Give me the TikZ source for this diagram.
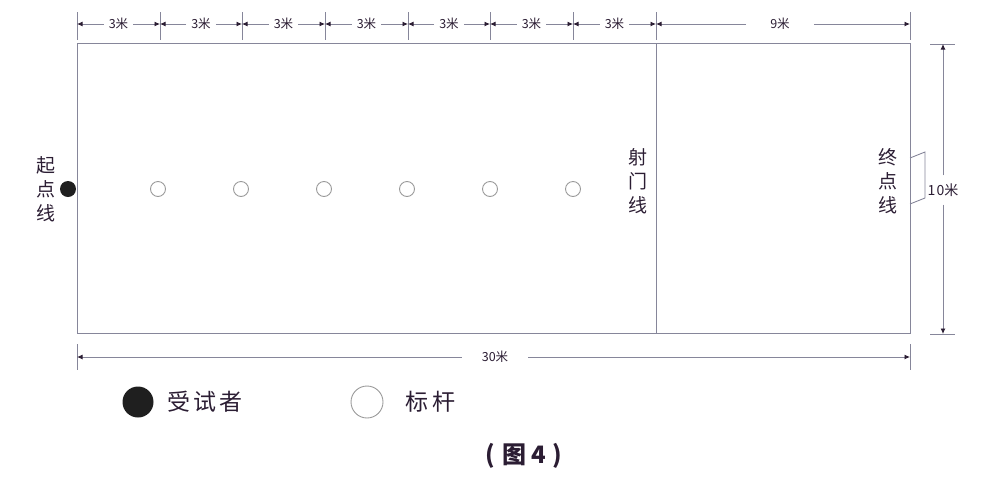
\documentclass[tikz,border=0pt]{standalone}
\usepackage{fontspec}
\setmainfont{Liberation Sans}
\newfontfamily\cjk{Noto Sans CJK SC}
\usetikzlibrary{arrows.meta,calc}
\definecolor{ln}{HTML}{86869A}
\definecolor{tx}{HTML}{2B1D33}
\definecolor{pole}{HTML}{9A9A9A}
\tikzset{
  dimlbl/.style={text=tx,font=\cjk\fontsize{12.5}{12}\selectfont,inner sep=5pt},
  dimarr/.style={draw=ln,line width=0.9pt,-{Latex[length=5.5pt,width=5pt,color=tx]}},
  ext/.style={draw=ln,line width=0.9pt},
  field/.style={draw=ln,line width=1pt},
  polec/.style={circle,draw=pole,line width=0.9pt,minimum size=15pt,inner sep=0pt},
  subj/.style={circle,fill=black!88,minimum size=16pt,inner sep=0pt},
  vlbl/.style={text=tx,font=\cjk\fontsize{19}{24}\selectfont,align=center,inner sep=0pt},
  leg/.style={text=tx,font=\cjk\fontsize{23}{24}\selectfont,inner sep=0pt}
}
\begin{document}
\begin{tikzpicture}[x=1pt,y=-1pt]
\useasboundingbox (0,0) rectangle (1006,488);
% field
\node[field,rectangle,minimum width=833pt,minimum height=290pt,anchor=north west,inner sep=0pt] (fld) at (77,43) {};
\coordinate (gt) at (656,43);
\coordinate (gb) at (656,333);
\draw[field] (gt) -- (gb);
% top ticks
\foreach \n/\x in {0/77,1/160,2/242,3/325,4/408,5/490,6/573,7/656,8/910}{
  \coordinate (tt\n) at (\x,12);
  \coordinate (tb\n) at (\x,40);
  \coordinate (ta\n) at (\x,24);
  \draw[ext] (tt\n) -- (tb\n);
}
\foreach \a/\b in {0/1,1/2,2/3,3/4,4/5,5/6,6/7}{
  \node[dimlbl] (dl\a) at ($(ta\a)!0.5!(ta\b)$) {3米};
  \draw[dimarr] (dl\a) -- (ta\a);
  \draw[dimarr] (dl\a) -- (ta\b);
}
\node[dimlbl,inner xsep=24pt] (dl7) at (780,24) {9米};
\draw[dimarr] (dl7) -- (ta7);
\draw[dimarr] (dl7) -- (ta8);
% right dimension
\coordinate (rl1) at (930,44); \coordinate (rr1) at (955,44);
\coordinate (rl2) at (930,334); \coordinate (rr2) at (955,334);
\draw[ext] (rl1) -- (rr1);
\draw[ext] (rl2) -- (rr2);
\node[dimlbl,font=\cjk\fontsize{14}{14}\selectfont,inner ysep=8pt,inner xsep=0pt] (d10) at (943,190) {1\kern1pt 0米};
\coordinate (r1) at (943,44);
\coordinate (r2) at (943,334);
\draw[dimarr] (d10) -- (r1);
\draw[dimarr] (d10) -- (r2);
% bracket
\coordinate (b1) at (910,158); \coordinate (b2) at (925,152);
\coordinate (b3) at (925,198); \coordinate (b4) at (910,204);
\draw[ext] (b1) -- (b2) -- (b3) -- (b4);
% bottom dimension
\coordinate (bt0) at (77,344); \coordinate (bb0) at (77,370);
\coordinate (bt1) at (910,344); \coordinate (bb1) at (910,370);
\coordinate (ba0) at (77,357); \coordinate (ba1) at (910,357);
\draw[ext] (bt0) -- (bb0);
\draw[ext] (bt1) -- (bb1);
\node[dimlbl,inner xsep=20pt] (d30) at (495,357) {30米};
\draw[dimarr] (d30) -- (ba0);
\draw[dimarr] (d30) -- (ba1);
% poles
\foreach \i/\x in {1/158,2/241,3/324,4/407,5/490,6/573}{
  \node[polec] (p\i) at (\x,189) {};
}
\node[subj] (s) at (68,189) {};
% vertical labels
\node[vlbl] (start) at (46,189) {起\\点\\线};
\node[vlbl] (shoot) at (638,181) {射\\门\\线};
\node[vlbl] (fin) at (888,181) {终\\点\\线};
% legend
\node[subj,minimum size=31pt] (ls) at (138,402) {};
\node[leg,anchor=west] (lst) at (167,402) {受\kern3pt 试\kern3pt 者};
\node[polec,minimum size=32pt] (lp) at (367,402) {};
\node[leg,anchor=west] (lpt) at (405,402) {标\kern4pt 杆};
% caption
\node[text=tx,font=\cjk\bfseries\fontsize{24}{26}\selectfont,inner sep=0pt] (cap) at (524,456) {(\kern7pt 图\kern5pt 4\kern7pt )};
\end{tikzpicture}
\end{document}
